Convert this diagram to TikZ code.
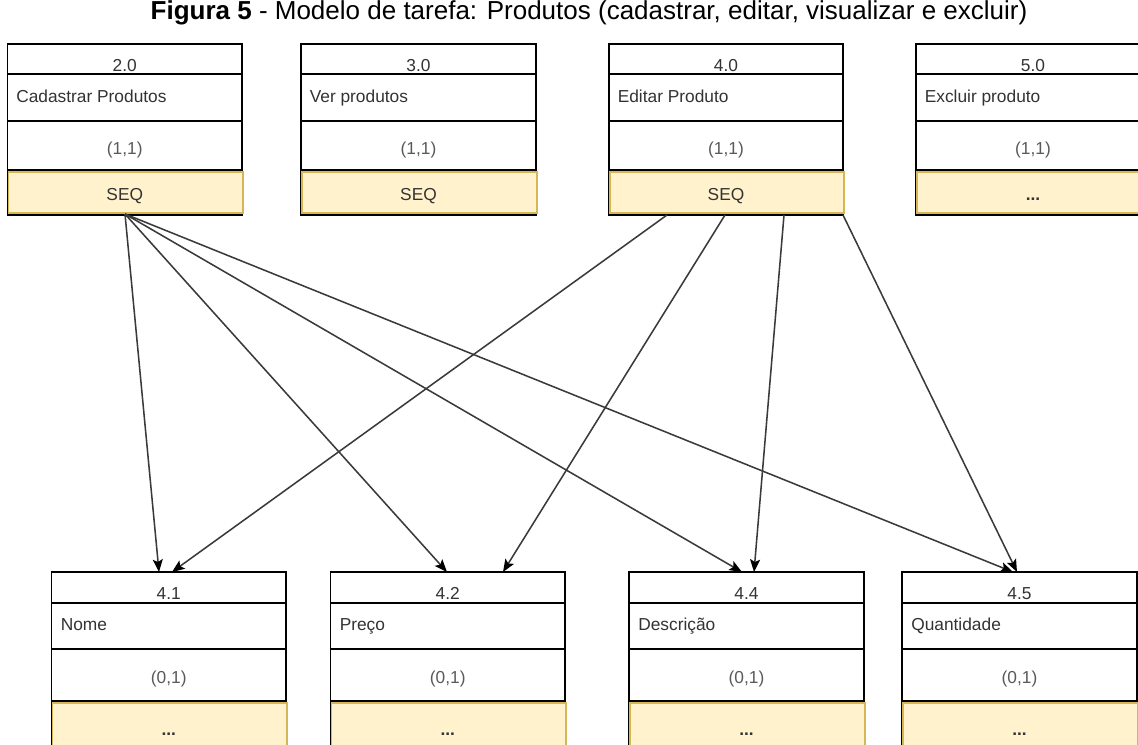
\documentclass[tikz,border=0pt]{standalone}
\usepackage{fontspec}
\setmainfont{Liberation Sans}
\usetikzlibrary{arrows.meta}

\definecolor{seqfill}{HTML}{FFF2CC}
\definecolor{seqline}{HTML}{D6B656}
\definecolor{txtdark}{HTML}{333333}
\definecolor{txtcard}{HTML}{5A5A5A}
\definecolor{wire}{HTML}{3A3A3A}

\tikzset{
  frame/.style={draw=black, line width=1pt},
  seqcell/.style={draw=seqline, fill=seqfill, line width=1pt},
  boxtext/.style={inner sep=0pt, text=txtdark, font=\fontsize{13}{15}\selectfont},
  cardtext/.style={boxtext, text=txtcard},
  link/.style={draw=wire, line width=1.15pt,
    -{Stealth[length=9.5pt, width=7.5pt, inset=2pt, color=black]}},
}

% Task box of the upper row: #1 name, #2 left, #3 right, #4 number, #5 task, #6 operator
\newcommand\uppertask[6]{%
  \draw[frame] (#2,44) rectangle (#3,215);
  \draw[frame] (#2,74) -- (#3,74) (#2,121) -- (#3,121) (#2,170) -- (#3,170);
  \draw[seqcell] (#2+1,172) rectangle (#3+1,213);
  \node[boxtext, anchor=base] (#1-num) at ({(#2+#3)/2},71) {#4};
  \node[boxtext, anchor=base west] (#1-name) at (#2+8.5,102) {#5};
  \node[cardtext, anchor=base] (#1-card) at ({(#2+#3)/2},154) {(1,1)};
  \node[boxtext, anchor=base] (#1-op) at ({(#2+#3)/2},200) {#6};
}

% Task box of the lower row: #1 name, #2 left, #3 right, #4 number, #5 task
\newcommand\lowertask[5]{%
  \draw[frame] (#2,572) rectangle (#3,760);
  \draw[frame] (#2,603) -- (#3,603) (#2,649) -- (#3,649) (#2,701) -- (#3,701);
  \draw[seqcell] (#2+1,703) rectangle (#3+1,760);
  \node[boxtext, anchor=base] (#1-num) at ({(#2+#3)/2},599) {#4};
  \node[boxtext, anchor=base west] (#1-name) at (#2+9,630) {#5};
  \node[cardtext, anchor=base] (#1-card) at ({(#2+#3)/2},683) {(0,1)};
  \node[boxtext, anchor=base] (#1-op) at ({(#2+#3)/2},735) {\textbf{...}};
}

\begin{document}
\begin{tikzpicture}[x=0.75pt, y=-0.75pt]
  \useasboundingbox (0,0) rectangle (1138,744);
  \clip (0,0) rectangle (1138,744);
  \fill[white] (0,0) rectangle (1138,744);

  % caption
  \node[inner sep=0pt, anchor=base, font=\fontsize{19.5}{22}\selectfont] (caption)
    at (589,19) {\textbf{Figura 5} - Modelo de tarefa: Produtos (cadastrar, editar, visualizar e excluir)};

  % upper row
  \uppertask{t20}{7.5}{242}{2.0}{Cadastrar Produtos}{SEQ}
  \uppertask{t30}{301}{536}{3.0}{Ver produtos}{SEQ}
  \uppertask{t40}{609}{843}{4.0}{Editar Produto}{SEQ}
  \uppertask{t50}{916}{1150}{5.0}{Excluir produto}{\textbf{...}}

  % lower row
  \lowertask{t41}{51.5}{286}{4.1}{Nome}
  \lowertask{t42}{330.5}{565}{4.2}{Preço}
  \lowertask{t44}{629}{864}{4.4}{Descrição}
  \lowertask{t45}{902}{1137}{4.5}{Quantidade}

  % ports on the box edges
  \coordinate (t20-out) at (125,214);
  \coordinate (t40-outa) at (667,215);
  \coordinate (t40-outb) at (725,215);
  \coordinate (t40-outc) at (784,215);
  \coordinate (t40-outd) at (843,215);
  \coordinate (t41-ina) at (159,572);
  \coordinate (t41-inb) at (172,572);
  \coordinate (t42-ina) at (447,572);
  \coordinate (t42-inb) at (503,572);
  \coordinate (t44-ina) at (742,572);
  \coordinate (t44-inb) at (754,572);
  \coordinate (t45-ina) at (1013,572);
  \coordinate (t45-inb) at (1017,572);

  % connectors from 2.0
  \draw[link] (t20-out) -- (t41-ina);
  \draw[link] (t20-out) -- (t42-ina);
  \draw[link] (t20-out) -- (t44-ina);
  \draw[link] (t20-out) -- (t45-ina);

  % connectors from 4.0
  \draw[link] (t40-outa) -- (t41-inb);
  \draw[link] (t40-outb) -- (t42-inb);
  \draw[link] (t40-outc) -- (t44-inb);
  \draw[link] (t40-outd) -- (t45-inb);
\end{tikzpicture}
\end{document}
